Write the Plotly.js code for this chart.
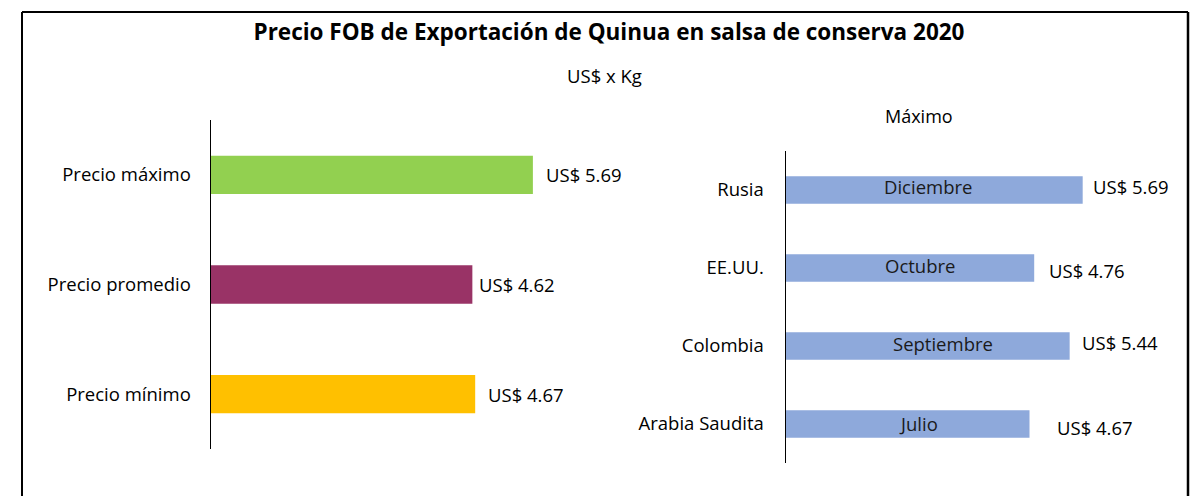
<!DOCTYPE html>
<html>
<head>
<meta charset="utf-8">
<script src="https://cdn.plot.ly/plotly-3.0.1.min.js"></script>
<style>html,body{margin:0;padding:0;background:#fff;}#chart{width:1202px;height:496px;}</style>
</head>
<body>
<div id="chart"></div>
<script>
// Left panel: summary prices
const summaryCategories = ["Precio máximo", "Precio promedio", "Precio mínimo"];
const summaryValues = [5.69, 4.62, 4.67];
const summaryColors = ["#92D050", "#993366", "#FFC000"];

// Right panel: maximum price by destination
const countries = ["Rusia", "EE.UU.", "Colombia", "Arabia Saudita"];
const countryValues = [5.69, 4.76, 5.44, 4.67];
const countryMonths = ["Diciembre", "Octubre", "Septiembre", "Julio"];

const titleText = "<b>Precio FOB de Exportación de Quinua en salsa de conserva 2020</b>";
const subtitleText = "US$ x Kg";
const rightTitleText = "Máximo";

const FONT = "'Open Sans', sans-serif";
const W = 1202, H = 496;
const px = v => v / W;
const py = v => 1 - v / H;

const fmt = v => "US$ " + v.toFixed(2);

const traces = [
  {
    type: "bar", orientation: "h",
    x: summaryValues, y: summaryCategories,
    marker: {color: summaryColors},
    width: 0.35, xaxis: "x", yaxis: "y",
    hoverinfo: "x+y"
  },
  {
    type: "bar", orientation: "h",
    x: countryValues, y: countries,
    marker: {color: "#8EA9DB"},
    width: 0.35, xaxis: "x2", yaxis: "y2",
    hoverinfo: "x+y"
  }
];

const leftShifts = [11, 5, 11];
const rightShifts = [8, 13, 10, 25];
const rightYShifts = [4, -2, 4, -3];
const monthXShifts = [-6, 10, 15, 11];
const monthYShifts = [4, 3, 3, 1];

const annotations = [];
summaryValues.forEach((v, i) => {
  annotations.push({
    x: v, y: summaryCategories[i], xref: "x", yref: "y",
    text: fmt(v), showarrow: false, xanchor: "left", yanchor: "middle",
    xshift: leftShifts[i], font: {family: FONT, size: 18.5, color: "#000"}
  });
});
countryValues.forEach((v, i) => {
  annotations.push({
    x: v, y: countries[i], xref: "x2", yref: "y2",
    text: fmt(v), showarrow: false, xanchor: "left", yanchor: "middle",
    xshift: rightShifts[i], yshift: rightYShifts[i],
    font: {family: FONT, size: 18.5, color: "#000"}
  });
  annotations.push({
    x: v / 2, y: countries[i], xref: "x2", yref: "y2",
    text: countryMonths[i], showarrow: false, xanchor: "center", yanchor: "middle",
    xshift: monthXShifts[i], yshift: monthYShifts[i],
    font: {family: FONT, size: 18.5, color: "#1a1a1a"}
  });
});
annotations.push({
  x: px(604), y: py(76), xref: "paper", yref: "paper",
  text: subtitleText, showarrow: false, xanchor: "center", yanchor: "middle",
  font: {family: FONT, size: 18.5, color: "#000"}
});
annotations.push({
  x: px(919), y: py(116), xref: "paper", yref: "paper",
  text: rightTitleText, showarrow: false, xanchor: "center", yanchor: "middle",
  font: {family: FONT, size: 18, color: "#000"}
});

const layout = {
  width: W, height: H,
  margin: {l: 0, r: 0, t: 0, b: 0},
  paper_bgcolor: "#fff", plot_bgcolor: "rgba(0,0,0,0)",
  showlegend: false,
  title: {
    text: titleText, x: px(609), xanchor: "center", y: py(32), yanchor: "middle",
    font: {family: FONT, size: 22.5, color: "#000"}
  },
  xaxis: {
    domain: [px(211), px(607)], range: [0, 7],
    showgrid: false, zeroline: false, showline: false, showticklabels: false, ticks: ""
  },
  yaxis: {
    domain: [py(449), py(120)],
    type: "category", autorange: "reversed",
    showgrid: false, zeroline: false,
    showline: true, linecolor: "#000", linewidth: 1.5,
    ticks: "", ticklabelstandoff: 15,
    tickfont: {family: FONT, size: 18.5, color: "#000"}
  },
  xaxis2: {
    domain: [px(786), px(1151)], range: [0, 7], anchor: "y2",
    showgrid: false, zeroline: false, showline: false, showticklabels: false, ticks: ""
  },
  yaxis2: {
    domain: [py(463), py(151)], anchor: "x2",
    type: "category", autorange: "reversed",
    showgrid: false, zeroline: false,
    showline: true, linecolor: "#000", linewidth: 1.5,
    ticks: "", ticklabelstandoff: 17,
    tickfont: {family: FONT, size: 18.5, color: "#000"}
  },
  annotations: annotations,
  shapes: [
    {type: "line", xref: "paper", yref: "paper", x0: px(22), x1: px(22), y0: py(12), y1: -0.1, line: {color: "#000", width: 2}},
    {type: "line", xref: "paper", yref: "paper", x0: px(1188), x1: px(1188), y0: py(12), y1: -0.1, line: {color: "#000", width: 2.5}},
    {type: "line", xref: "paper", yref: "paper", x0: px(22), x1: px(1188), y0: py(12), y1: py(12), line: {color: "#000", width: 2}}
  ]
};

Plotly.newPlot("chart", traces, layout, {displayModeBar: false, staticPlot: true});
</script>
</body>
</html>
